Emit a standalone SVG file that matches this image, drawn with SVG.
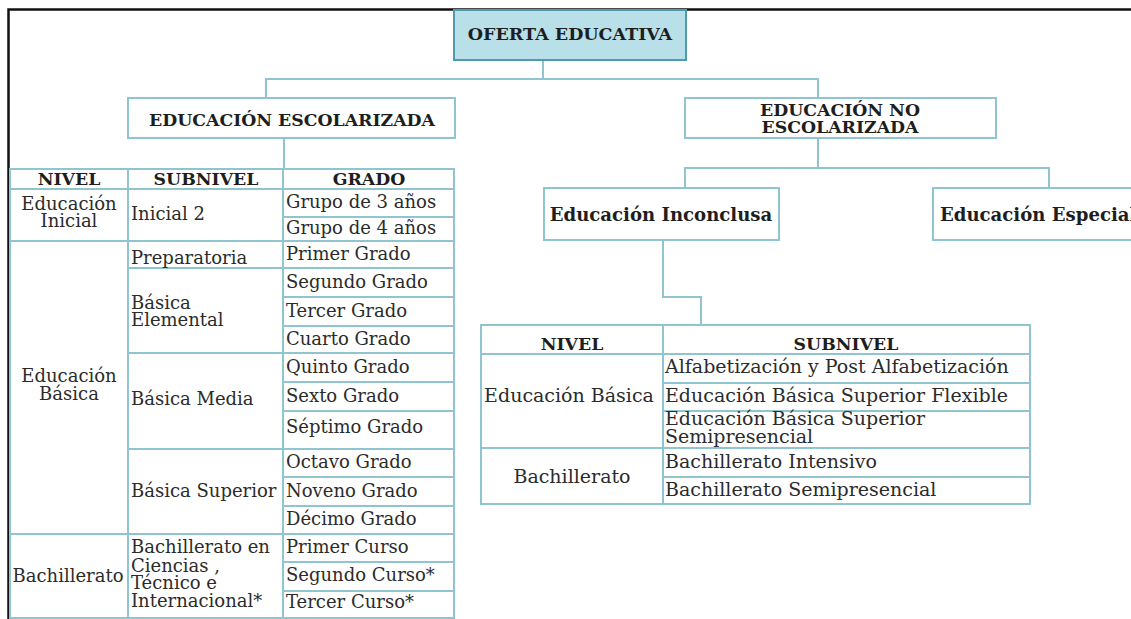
<svg xmlns="http://www.w3.org/2000/svg" width="1131" height="619" viewBox="0 0 1131 619">
<style>
  .bg{fill:#ffffff}
  .box{fill:#ffffff;stroke:#8fc4d0;stroke-width:2}
  .root{fill:#b9dfe8;stroke:#4f9bae;stroke-width:2}
  .ln{stroke:#8fc4d0;stroke-width:2;fill:none}
  .frame{stroke:#111;stroke-width:2.5;fill:none}
  text{font-family:"DejaVu Serif","Liberation Serif",serif;fill:#2b2b2b}
  .h{font-weight:bold;font-size:17.3px;fill:#1e1e1e}
  .hs{font-weight:bold;font-size:17.3px;fill:#1e1e1e}
  .b{font-size:18px}
  .r{font-size:19px}
  .m{text-anchor:middle}
</style>
<rect class="bg" x="0" y="0" width="1131" height="619"/>
<path class="frame" d="M8.5,619 V9.5 H1131"/>

<g id="connectors">
  <path class="ln" d="M543,60 V79"/>
  <path class="ln" d="M266,98 V79 H818 V98"/>
  <path class="ln" d="M284,138 V169"/>
  <path class="ln" d="M818,138 V168"/>
  <path class="ln" d="M685,188 V168 H1049 V188"/>
  <path class="ln" d="M663,240 V297 H701 V325"/>
</g>

<g id="n-oferta">
  <rect class="root" x="454" y="10" width="232" height="50"/>
  <text class="h m" x="570" y="40" style="font-size:17.5px">OFERTA EDUCATIVA</text>
</g>

<g id="n-escolarizada">
  <rect class="box" x="128" y="98" width="327" height="40"/>
  <text class="h m" x="292" y="126">EDUCACIÓN ESCOLARIZADA</text>
</g>

<g id="n-noescolarizada">
  <rect class="box" x="685" y="98" width="311" height="40"/>
  <text class="h m" x="840" y="116">EDUCACIÓN NO</text>
  <text class="h m" x="840" y="133">ESCOLARIZADA</text>
</g>

<g id="n-inconclusa">
  <rect class="box" x="544" y="188" width="235" height="52"/>
  <text class="h m" x="661" y="221" style="font-size:18.1px">Educación Inconclusa</text>
</g>

<g id="n-especial">
  <rect class="box" x="933" y="188" width="220" height="52"/>
  <text class="h" x="940" y="221" style="font-size:18.1px">Educación Especial</text>
</g>

<g id="t-escolarizada">
  <rect class="ln" x="10" y="169" width="444" height="449"/>
  <path class="ln" d="M128,169 V618 M283,169 V618"/>
  <path class="ln" d="M10,189 H454 M283,217 H454 M10,241 H454 M128,268 H454 M283,297 H454 M283,326 H454 M128,353 H454 M283,382 H454 M283,411 H454 M128,449 H454 M283,477 H454 M283,506 H454 M10,534 H454 M283,562 H454 M283,591 H454"/>
  <text class="hs m" x="69" y="185">NIVEL</text>
  <text class="hs m" x="206" y="185">SUBNIVEL</text>
  <text class="hs m" x="369" y="185">GRADO</text>

  <text class="b m" x="69" y="210">Educación</text>
  <text class="b m" x="69" y="227">Inicial</text>
  <text class="b m" x="69" y="382">Educación</text>
  <text class="b m" x="69" y="400">Básica</text>
  <text class="b m" x="68" y="582">Bachillerato</text>

  <text class="b" x="131" y="220">Inicial 2</text>
  <text class="b" x="131" y="264">Preparatoria</text>
  <text class="b" x="131" y="309">Básica</text>
  <text class="b" x="131" y="326">Elemental</text>
  <text class="b" x="131" y="405">Básica Media</text>
  <text class="b" x="131" y="497">Básica Superior</text>
  <text class="b" x="131" y="553">Bachillerato en</text>
  <text class="b" x="131" y="572">Ciencias ,</text>
  <text class="b" x="131" y="589">Técnico e</text>
  <text class="b" x="131" y="607">Internacional*</text>

  <text class="b" x="286" y="208">Grupo de 3 años</text>
  <text class="b" x="286" y="234">Grupo de 4 años</text>
  <text class="b" x="286" y="260">Primer Grado</text>
  <text class="b" x="286" y="288">Segundo Grado</text>
  <text class="b" x="286" y="317">Tercer Grado</text>
  <text class="b" x="286" y="345">Cuarto Grado</text>
  <text class="b" x="286" y="373">Quinto Grado</text>
  <text class="b" x="286" y="402">Sexto Grado</text>
  <text class="b" x="286" y="433">Séptimo Grado</text>
  <text class="b" x="286" y="468">Octavo Grado</text>
  <text class="b" x="286" y="497">Noveno Grado</text>
  <text class="b" x="286" y="525">Décimo Grado</text>
  <text class="b" x="286" y="553">Primer Curso</text>
  <text class="b" x="286" y="581">Segundo Curso*</text>
  <text class="b" x="286" y="608">Tercer Curso*</text>
</g>

<g id="t-noescolarizada">
  <rect class="ln" x="481" y="325" width="549" height="179"/>
  <path class="ln" d="M663,325 V504"/>
  <path class="ln" d="M481,354 H1030 M663,383 H1030 M663,411 H1030 M481,448 H1030 M663,477 H1030"/>
  <text class="hs m" x="572" y="350">NIVEL</text>
  <text class="hs m" x="846" y="350">SUBNIVEL</text>

  <text class="r m" x="569" y="402">Educación Básica</text>
  <text class="r m" x="572" y="483">Bachillerato</text>

  <text class="r" x="665" y="373">Alfabetización y Post Alfabetización</text>
  <text class="r" x="665" y="402">Educación Básica Superior Flexible</text>
  <text class="r" x="665" y="425">Educación Básica Superior</text>
  <text class="r" x="665" y="443">Semipresencial</text>
  <text class="r" x="665" y="468">Bachillerato Intensivo</text>
  <text class="r" x="665" y="496">Bachillerato Semipresencial</text>
</g>
</svg>
